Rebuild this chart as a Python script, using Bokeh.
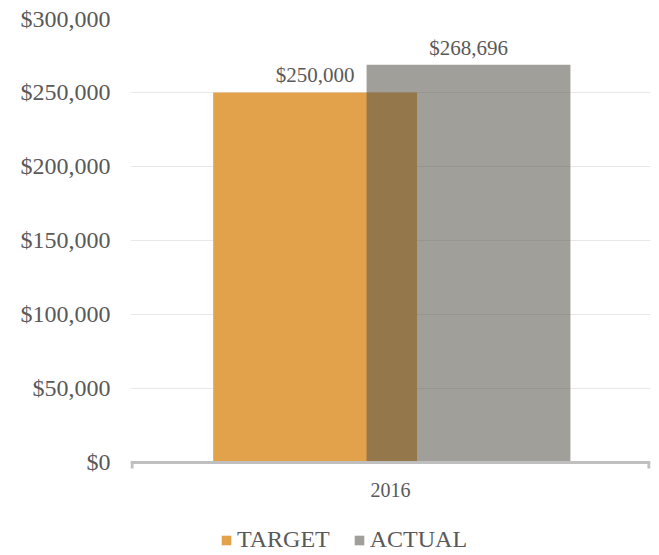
from bokeh.plotting import figure
from bokeh.layouts import column
from bokeh.models import (ColumnDataSource, FactorRange, Range1d, SingleIntervalTicker,
                          NumeralTickFormatter, Legend, LegendItem)
from bokeh.transform import dodge
from bokeh.core.properties import value
from bokeh.embed import file_html
from bokeh.resources import INLINE

categories = ["2016"]
target = [250000]
actual = [268696]
series_names = ["TARGET", "ACTUAL"]

FONT = "Liberation Serif"
TXT = "#595959"
C_TARGET = "#E2A24B"
C_ACTUAL = "#5A564C"
A_ACTUAL = 0.57

src = ColumnDataSource(dict(
    cat=categories,
    target=target,
    actual=actual,
    target_lbl=[f"${v:,}" for v in target],
    actual_lbl=[f"${v:,}" for v in actual],
    zero=[0 for _ in categories],
    tick_low=[-4054 for _ in categories],
))

p = figure(x_range=FactorRange(*categories, range_padding=0),
           y_range=Range1d(-4730, 300000),
           width=659, height=520, output_backend="svg", toolbar_location=None,
           min_border_left=130, min_border_right=9, min_border_top=18, min_border_bottom=51)
p.outline_line_color = None
p.background_fill_color = "white"
p.border_fill_color = "white"

# bars
r_t = p.vbar(x=dodge("cat", -0.145, range=p.x_range), top="target", width=0.392, bottom=0,
             source=src, fill_color=C_TARGET, line_color=None)
r_a = p.vbar(x=dodge("cat", 0.150, range=p.x_range), top="actual", width=0.392, bottom=0,
             source=src, fill_color=C_ACTUAL, fill_alpha=A_ACTUAL, line_color=None)

# data labels
p.text(x=dodge("cat", -0.145, range=p.x_range), y="target", text="target_lbl", source=src,
       text_align="center", text_baseline="bottom", y_offset=-5,
       text_font=value(FONT), text_font_size="21px", text_color=TXT)
p.text(x=dodge("cat", 0.150, range=p.x_range), y="actual", text="actual_lbl", source=src,
       text_align="center", text_baseline="bottom", y_offset=-5,
       text_font=value(FONT), text_font_size="21px", text_color=TXT)

# x axis line with end ticks (Excel style)
p.segment(x0=dodge("cat", -0.5, range=p.x_range), y0="zero",
          x1=dodge("cat", 0.5, range=p.x_range), y1="zero", source=src,
          line_color="#BFBFBF", line_width=3)
p.segment(x0=dodge("cat", -0.497, range=p.x_range), y0="zero",
          x1=dodge("cat", -0.497, range=p.x_range), y1="tick_low", source=src,
          line_color="#BFBFBF", line_width=3)
p.segment(x0=dodge("cat", 0.497, range=p.x_range), y0="zero",
          x1=dodge("cat", 0.497, range=p.x_range), y1="tick_low", source=src,
          line_color="#BFBFBF", line_width=3)

# axes
p.yaxis.ticker = SingleIntervalTicker(interval=50000)
p.yaxis.formatter = NumeralTickFormatter(format="$0,0")
p.yaxis.axis_line_color = None
p.yaxis.major_tick_line_color = None
p.yaxis.minor_tick_line_color = None
p.yaxis.major_label_text_font = FONT
p.yaxis.major_label_text_font_size = "24px"
p.yaxis.major_label_text_color = TXT
p.yaxis.major_label_standoff = 14

p.xaxis.axis_line_color = None
p.xaxis.major_tick_line_color = None
p.xaxis.minor_tick_line_color = None
p.xaxis.major_label_text_font = FONT
p.xaxis.major_label_text_font_size = "20px"
p.xaxis.major_label_text_color = TXT
p.xaxis.major_label_standoff = 7

p.xgrid.grid_line_color = None
p.ygrid.grid_line_color = "#E8E8E8"
p.ygrid.grid_line_width = 1.2

# legend strip below the chart (zero-height bars only serve as legend swatches)
lg = figure(width=659, height=35, x_range=FactorRange(*categories), y_range=Range1d(0, 1),
            x_axis_type=None, y_axis_type=None, output_backend="svg", toolbar_location=None,
            min_border=0)
lg.outline_line_color = None
lg.xgrid.grid_line_color = None
lg.ygrid.grid_line_color = None
d_t = lg.vbar(x="cat", top="zero", bottom="zero", width=0.1, source=src,
              fill_color=C_TARGET, line_color=None)
d_a = lg.vbar(x="cat", top="zero", bottom="zero", width=0.1, source=src,
              fill_color=C_ACTUAL, fill_alpha=A_ACTUAL, line_color=None)
legend = Legend(items=[LegendItem(label=series_names[0], renderers=[d_t]),
                       LegendItem(label=series_names[1], renderers=[d_a])],
                orientation="horizontal", location=(90, 2),
                label_text_font=FONT, label_text_font_size="24px", label_text_color=TXT,
                glyph_width=12, glyph_height=12, label_standoff=5, spacing=23,
                border_line_color=None, background_fill_alpha=0, margin=0, padding=0)
lg.add_layout(legend)

layout = column(p, lg, spacing=0)
open("out.html", "w").write(file_html(layout, INLINE))
